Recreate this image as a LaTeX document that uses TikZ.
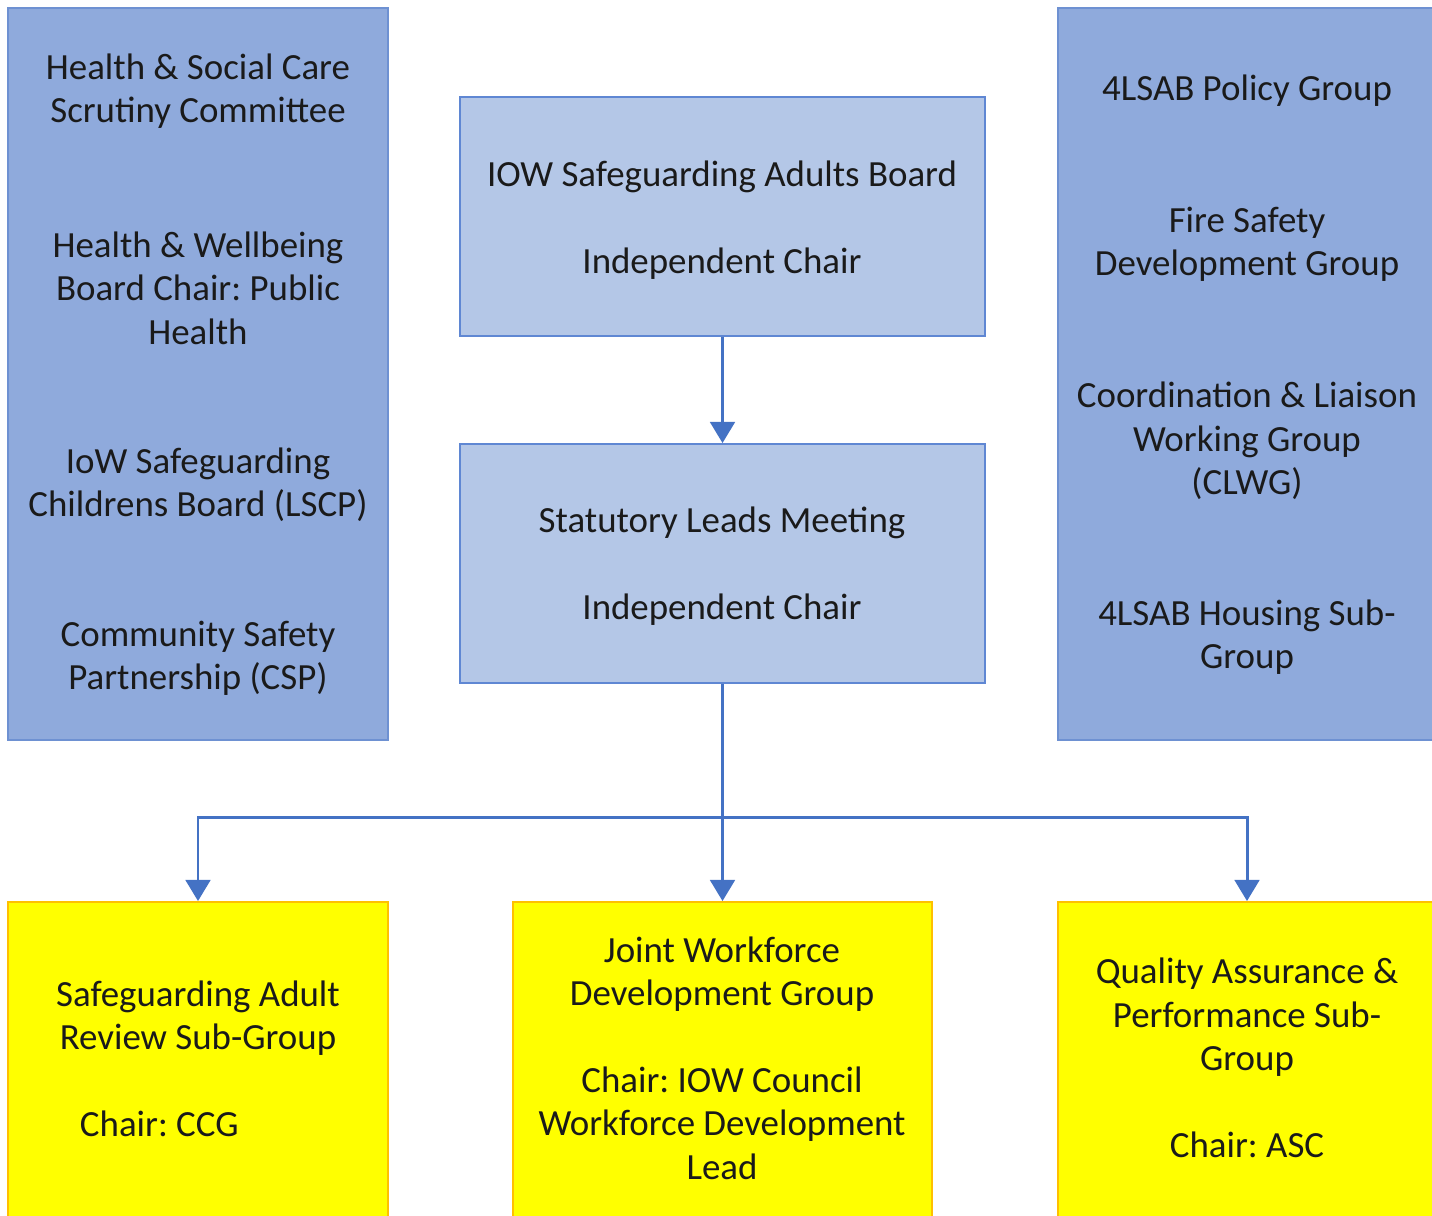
\documentclass[tikz,border=0pt]{standalone}
\usepackage{fontspec}
\setmainfont{Carlito}
\usetikzlibrary{fit,arrows.meta}

\definecolor{sidefill}{HTML}{8FAADC}
\definecolor{sideline}{HTML}{6E91D2}
\definecolor{leadfill}{HTML}{B4C7E7}
\definecolor{leadline}{HTML}{5F87D3}
\definecolor{subfill}{HTML}{FFFF00}
\definecolor{subline}{HTML}{FFC000}
\definecolor{linkblue}{HTML}{4472C4}
\definecolor{ink}{HTML}{1A1A1A}

\tikzset{
  txt/.style={text=ink, align=center, inner sep=0pt,
    font=\fontsize{21}{24.7}\selectfont},
  sidebox/.style={draw=sideline, fill=sidefill, line width=1.1pt, inner sep=0pt},
  leadbox/.style={draw=leadline, fill=leadfill, line width=1.1pt, inner sep=0pt},
  subbox/.style={draw=subline, fill=subfill, line width=1.1pt, inner sep=0pt},
  link/.style={draw=linkblue, line width=1.7pt},
  linkarrow/.style={link, -{Triangle[width=14pt,length=12pt]}}
}

\begin{document}
\frenchspacing
\begin{tikzpicture}[x=0.02cm, y=-0.02cm]
\clip (0,0) rectangle (1432,1215);
\fill[white] (0,0) rectangle (1432,1215);

% partner boards at the sides
\node[sidebox, fit={(8,8) (388,740)}] (partners) {};
\node[sidebox, fit={(1058,8) (1445,740)}] (groups) {};

\node[txt] (hscc) at (198,91) {Health \& Social Care\\Scrutiny Committee};
\node[txt] (hwb) at (198,288) {Health \& Wellbeing\\Board Chair: Public\\Health};
\node[txt] (lscp) at (198,485) {IoW Safeguarding\\Childrens Board (LSCP)};
\node[txt] (csp) at (198,658) {Community Safety\\Partnership (CSP)};

\node[txt] (policy) at (1247,91) {4LSAB Policy Group};
\node[txt] (fire) at (1247,244) {Fire Safety\\Development Group};
\node[txt] (clwg) at (1247,441) {Coordination \& Liaison\\Working Group\\(CLWG)};
\node[txt] (housing) at (1247,637) {4LSAB Housing Sub-\\Group};

% board and leads
\node[leadbox, fit={(460,97) (985,336)}] (board) {};
\node[leadbox, fit={(460,444) (985,683)}] (leads) {};
\node[txt] (boardtxt) at (722,220) {IOW Safeguarding Adults Board\\[24.7pt]Independent Chair};
\node[txt] (leadstxt) at (722,566) {Statutory Leads Meeting\\[24.7pt]Independent Chair};

% sub-groups
\node[subbox, fit={(8,902) (388,1218)}] (sar) {};
\node[subbox, fit={(513,902) (932,1218)}] (jwdg) {};
\node[subbox, fit={(1058,902) (1445,1218)}] (qa) {};
\node[txt] (sartxt) at (198,1059) {Safeguarding Adult\\Review Sub-Group\\[24.7pt]Chair: CCG\hspace*{1.55cm}};
\node[txt] (jwdgtxt) at (722,1058) {Joint Workforce\\Development Group\\[24.7pt]Chair: IOW Council\\Workforce Development\\Lead};
\node[txt] (qatxt) at (1247,1058) {Quality Assurance \&\\Performance Sub-\\Group\\[24.7pt]Chair: ASC};

\coordinate (split) at (leads.south |- 0,817);

\draw[linkarrow] (board.south) -- (leads.north);
\draw[link] (leads.south) -- (split);
\draw[linkarrow] (split) -- (jwdg.north -| split);
\draw[linkarrow] (split) -| (sar.north);
\draw[linkarrow] (split) -| (qa.north -| 1247,0);

\end{tikzpicture}
\end{document}
